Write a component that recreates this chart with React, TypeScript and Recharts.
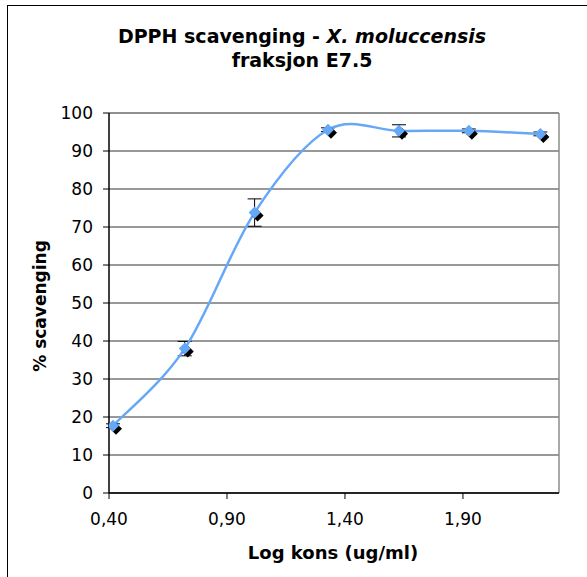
import React from 'react';
import { LineChart, Line, XAxis, YAxis, CartesianGrid, ErrorBar, ReferenceLine } from 'recharts';

// log concentration (ug/ml) and % scavenging
const logKons = [0.417, 0.721, 1.017, 1.328, 1.629, 1.925, 2.228];
const scavenging = [17.7, 38.0, 73.8, 95.6, 95.3, 95.3, 94.5];
const stdErr = [0.5, 1.9, 3.6, 0.5, 1.6, 0.5, 0.5];

const xTicks = [0.4, 0.9, 1.4, 1.9];
const yTicks = [0, 10, 20, 30, 40, 50, 60, 70, 80, 90, 100];
const X_MAX = 2.307;

const data = logKons.map((x, i) => ({ x, y: scavenging[i], err: stdErr[i] }));

const FONT = '"DejaVu Sans", Verdana, sans-serif';
const BLUE = '#66a8f8';

// Excel-style smoothed line (bezier through the points)
const excelCurve = (context: any) => {
  let pts: number[][] = [];
  return {
    areaStart() {},
    areaEnd() {},
    lineStart() {
      pts = [];
    },
    point(x: number, y: number) {
      pts.push([x, y]);
    },
    lineEnd() {
      if (!pts.length) return;
      context.moveTo(pts[0][0], pts[0][1]);
      for (let i = 0; i < pts.length - 1; i++) {
        const p0 = pts[i - 1] || pts[i];
        const p1 = pts[i];
        const p2 = pts[i + 1];
        const p3 = pts[i + 2] || p2;
        context.bezierCurveTo(
          p1[0] + (p2[0] - p0[0]) / 6,
          p1[1] + (p2[1] - p0[1]) / 6,
          p2[0] - (p3[0] - p1[0]) / 6,
          p2[1] - (p3[1] - p1[1]) / 6,
          p2[0],
          p2[1]
        );
      }
    },
  };
};

const Diamond = (props: any) => {
  const { cx, cy } = props;
  if (cx == null || cy == null) return null;
  const r = 6;
  const path = (x: number, y: number) => `M${x},${y - r}L${x + r},${y}L${x},${y + r}L${x - r},${y}Z`;
  return (
    <g>
      <path d={path(cx + 3, cy + 3)} fill="#000" />
      <path d={path(cx, cy)} fill={BLUE} />
    </g>
  );
};

const fmt = (v: number) => v.toFixed(2).replace('.', ',');

export default function App() {
  return (
    <div style={{ position: 'absolute', left: 0, top: 0, width: 587, height: 577, background: '#fff', overflow: 'hidden', fontFamily: FONT }}>
      <div style={{ position: 'absolute', left: 7, top: 5, width: 700, height: 700, borderLeft: '1.5px solid #000', borderTop: '1.5px solid #000' }} />
      <div style={{ position: 'absolute', left: 0, width: 604, top: 24, textAlign: 'center', fontWeight: 'bold', fontSize: 19, lineHeight: '24px', color: '#000' }}>
        DPPH scavenging - <i>X. moluccensis</i>
        <br />
        fraksjon E7.5
      </div>
      <div style={{ position: 'absolute', left: 40, top: 306, transform: 'translate(-50%, -50%) rotate(-90deg)', whiteSpace: 'nowrap', fontWeight: 'bold', fontSize: 17, color: '#000' }}>
        % scavenging
      </div>
      <div style={{ position: 'absolute', left: 333, top: 552, transform: 'translate(-50%, -50%)', whiteSpace: 'nowrap', fontWeight: 'bold', fontSize: 18, color: '#000' }}>
        Log kons (ug/ml)
      </div>
      <div style={{ position: 'absolute', left: 0, top: 0 }}>
        <LineChart width={587} height={577} data={data} margin={{ top: 113, right: 28, bottom: 0, left: 0 }}>
          <CartesianGrid vertical={false} stroke="#333" strokeWidth={1} />
          <ReferenceLine x={X_MAX} stroke="#8c8c8c" strokeWidth={1.5} />
          <ReferenceLine y={100} stroke="#8c8c8c" strokeWidth={1.5} />
          <XAxis
            dataKey="x"
            type="number"
            domain={[0.4, X_MAX]}
            ticks={xTicks}
            tickFormatter={fmt}
            height={84}
            axisLine={{ stroke: '#000', strokeWidth: 1.5 }}
            tickLine={{ stroke: '#000' }}
            tickSize={6}
            tickMargin={14}
            tick={{ fill: '#000', fontSize: 17, fontFamily: FONT }}
            allowDataOverflow
          />
          <YAxis
            type="number"
            domain={[0, 100]}
            ticks={yTicks}
            width={109}
            axisLine={{ stroke: '#000', strokeWidth: 1.5 }}
            tickLine={{ stroke: '#000' }}
            tickSize={6}
            tickMargin={10}
            tick={{ fill: '#000', fontSize: 17, fontFamily: FONT }}
            interval={0}
          />
          <Line
            dataKey="y"
            type={excelCurve as any}
            stroke={BLUE}
            strokeWidth={2.5}
            dot={<Diamond />}
            activeDot={false}
            isAnimationActive={false}
          >
            <ErrorBar dataKey="err" width={7} stroke="#000" strokeWidth={1} direction="y" />
          </Line>
        </LineChart>
      </div>
    </div>
  );
}
